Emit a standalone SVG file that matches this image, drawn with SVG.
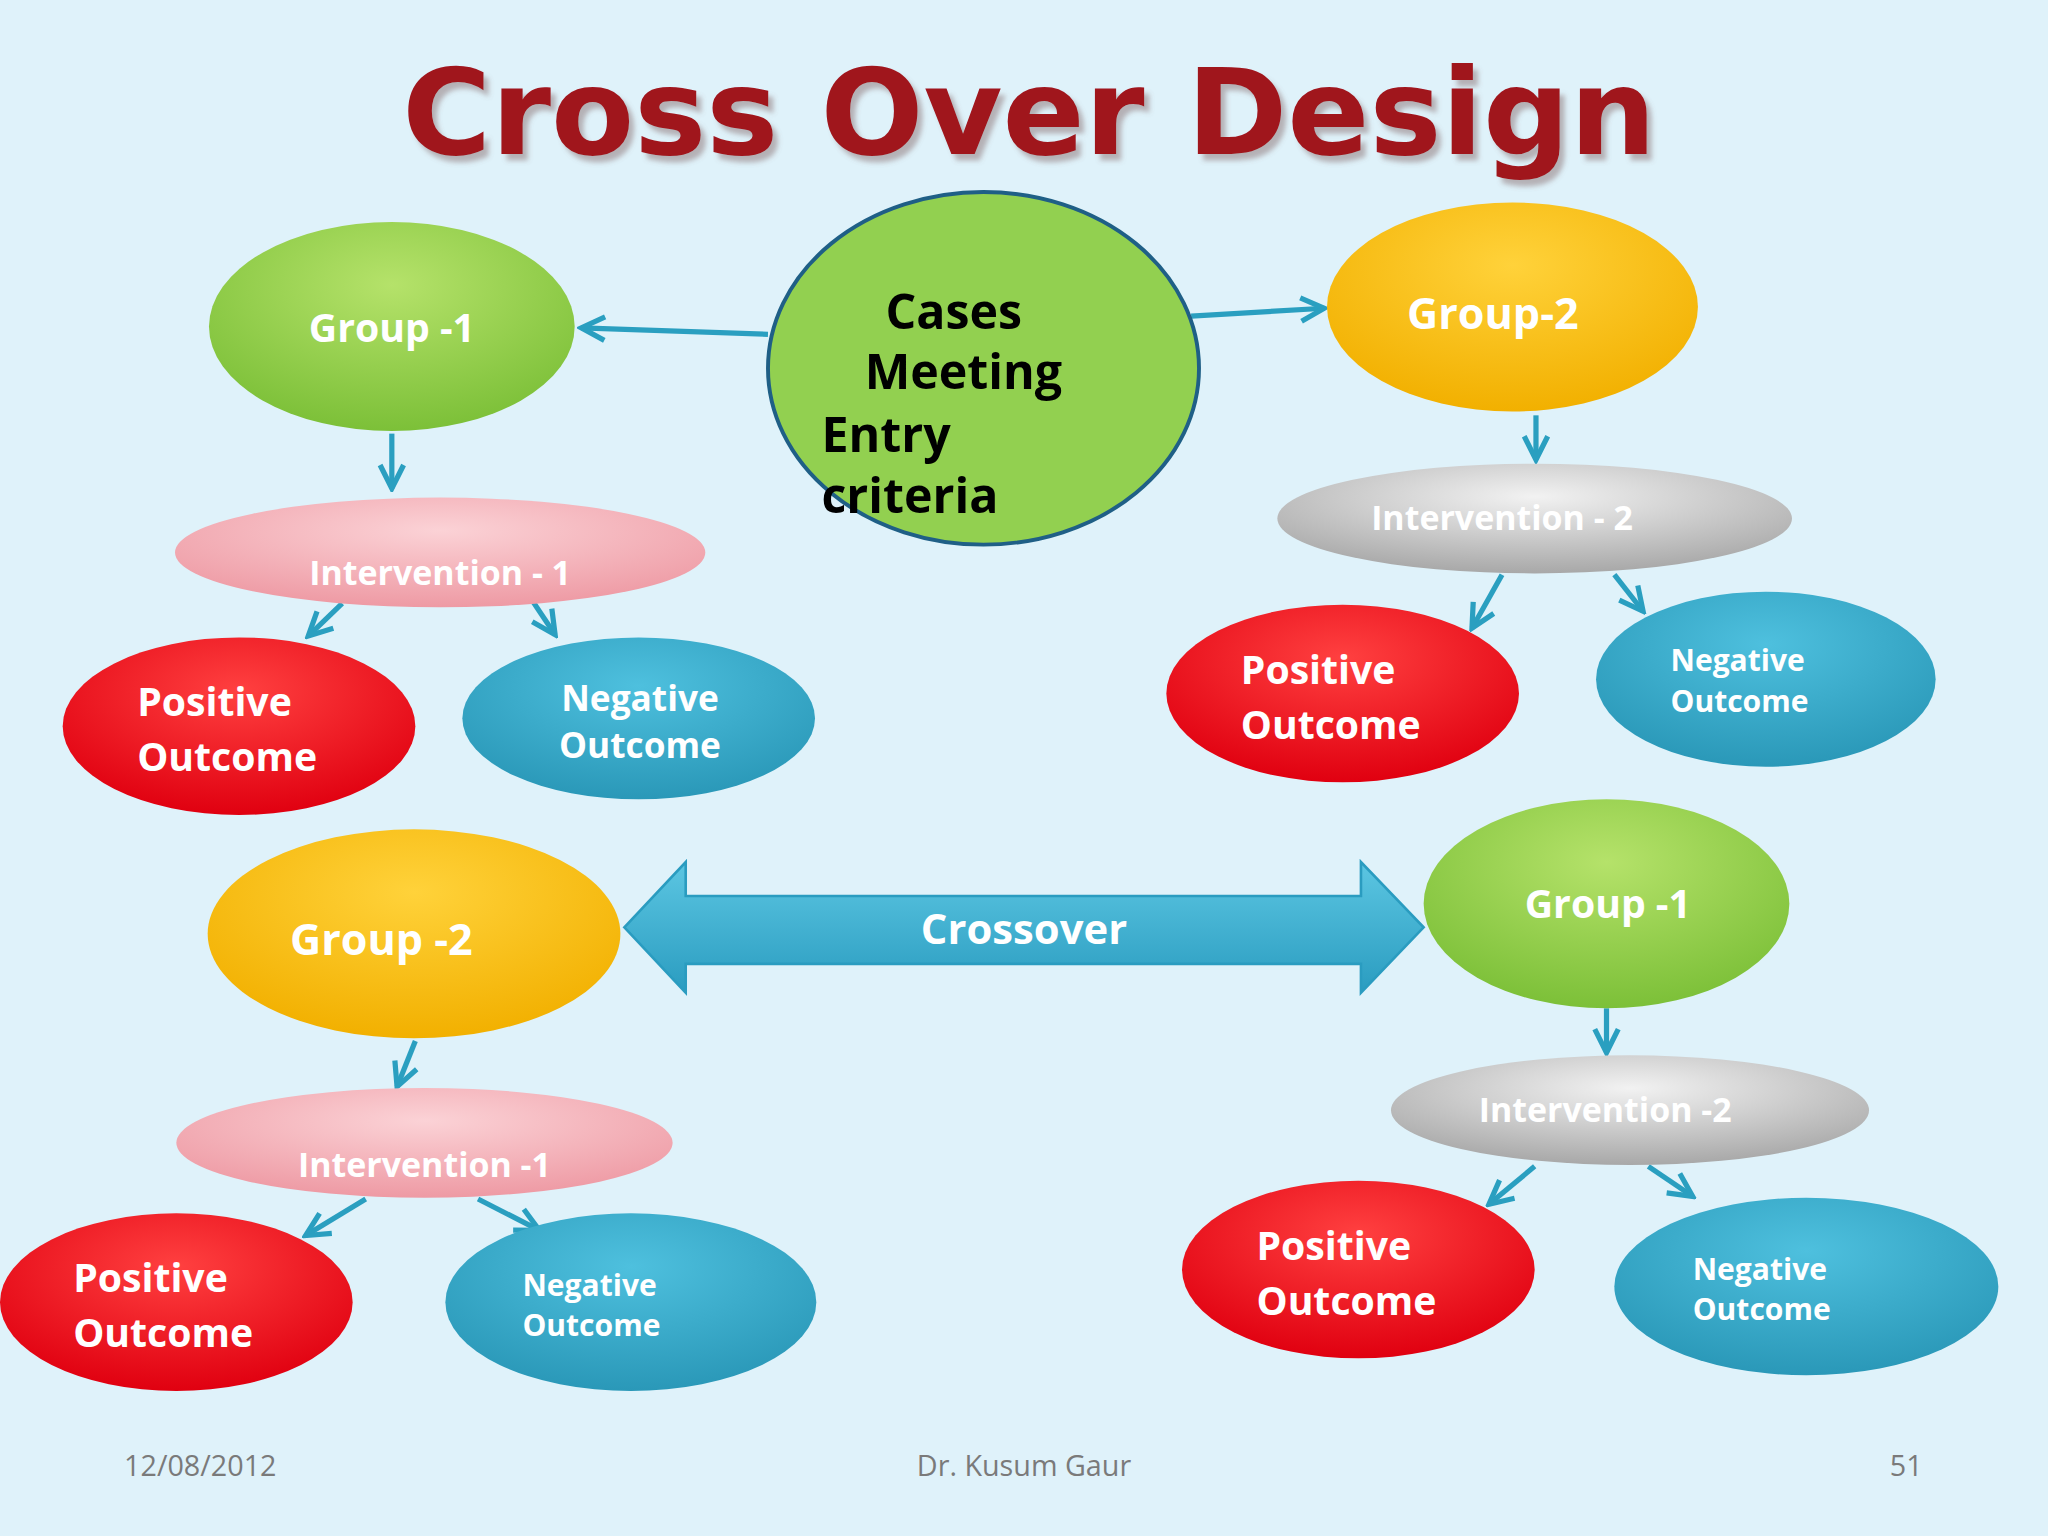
<svg xmlns="http://www.w3.org/2000/svg" width="2048" height="1536" viewBox="0 0 2048 1536">
<defs>
<radialGradient id="gG" cx="0.5" cy="0.3" r="0.7"><stop offset="0" stop-color="#b5e26a"/><stop offset="1" stop-color="#7cc038"/></radialGradient>
<radialGradient id="gY" cx="0.5" cy="0.3" r="0.7"><stop offset="0" stop-color="#ffd23a"/><stop offset="1" stop-color="#f2b000"/></radialGradient>
<radialGradient id="gP" cx="0.5" cy="0.3" r="0.7"><stop offset="0" stop-color="#fbd2d6"/><stop offset="1" stop-color="#ee9aa4"/></radialGradient>
<radialGradient id="gS" cx="0.5" cy="0.3" r="0.7"><stop offset="0" stop-color="#f2f2f2"/><stop offset="1" stop-color="#a8a8a8"/></radialGradient>
<radialGradient id="gR" cx="0.5" cy="0.3" r="0.7"><stop offset="0" stop-color="#ff4040"/><stop offset="1" stop-color="#e00010"/></radialGradient>
<radialGradient id="gB" cx="0.5" cy="0.3" r="0.7"><stop offset="0" stop-color="#4ec0de"/><stop offset="1" stop-color="#2a98b8"/></radialGradient>
<linearGradient id="gA" x1="0" y1="0" x2="0" y2="1"><stop offset="0" stop-color="#5cc6e2"/><stop offset="1" stop-color="#2a9cc0"/></linearGradient>
<filter id="sh" x="-5%" y="-10%" width="110%" height="130%"><feDropShadow dx="4" dy="5" stdDeviation="2" flood-color="#806060" flood-opacity="0.45"/></filter>
<marker id="ah" viewBox="0 0 24 24" refX="21" refY="12" markerWidth="24" markerHeight="24" markerUnits="userSpaceOnUse" orient="auto">
<path d="M3,3 L21,12 L3,21" fill="none" stroke="#2a9fc0" stroke-width="4"/></marker>
</defs>
<style>
.w{font-family:"Open Sans","DejaVu Sans",sans-serif;font-weight:bold;fill:#fff;text-anchor:middle}
.ws{font-family:"Open Sans","DejaVu Sans",sans-serif;font-weight:bold;fill:#fff;text-anchor:start}
.k{font-family:"Open Sans","DejaVu Sans",sans-serif;font-weight:bold;fill:#000}
.c{stroke:#2a9fc0;stroke-width:4;fill:none;marker-end:url(#ah)}
.f{font-family:"Open Sans","DejaVu Sans",sans-serif;fill:#7a7a7a;font-size:22px}
</style>
<rect width="2048" height="1536" fill="#dff2fa"/>
<g transform="scale(1.3061)">
<text x="788" y="118" text-anchor="middle" font-family="DejaVu Sans, sans-serif" font-weight="bold" font-size="92" fill="#a0141e" textLength="960" lengthAdjust="spacingAndGlyphs" filter="url(#sh)">Cross Over Design</text>

<g id="connectors">
<path class="c" d="M588,256 L445,251"/>
<path class="c" d="M912,242 L1014,236"/>
<path class="c" d="M300,332 L300,374"/>
<path class="c" d="M1176,318 L1176,352"/>
<path class="c" d="M262,462 L236,487"/>
<path class="c" d="M405,456 L425,486"/>
<path class="c" d="M1150,440 L1127,481"/>
<path class="c" d="M1236,440 L1258,468"/>
<path class="c" d="M318,797 L304,832"/>
<path class="c" d="M1230,772 L1230,806"/>
<path class="c" d="M280,918 L234,946"/>
<path class="c" d="M366,918 L413,942"/>
<path class="c" d="M1175,893 L1140,922"/>
<path class="c" d="M1262,893 L1296,916"/>
<g id="crossover">
<path d="M478,710 L525,660 L525,686 L1042,686 L1042,660 L1090,710 L1042,760 L1042,738 L525,738 L525,760 Z" fill="url(#gA)" stroke="#2a9cc0" stroke-width="2"/>
<text x="784" y="723" class="w" font-size="32">Crossover</text>
</g>
</g>

<g id="cases"><ellipse cx="753" cy="282" rx="165" ry="135" fill="#92d050" stroke="#1f5f86" stroke-width="3"/>
<text class="k" font-size="37"><tspan x="678" y="252">Cases</tspan><tspan x="662" y="298">Meeting</tspan><tspan x="629" y="346">Entry</tspan><tspan x="629" y="393">criteria</tspan></text></g>

<g id="g1"><ellipse cx="300" cy="250" rx="140" ry="80" fill="url(#gG)"/><text x="300" y="262" class="w" font-size="30">Group -1</text></g>
<g id="g2"><ellipse cx="1158" cy="235" rx="142" ry="80" fill="url(#gY)"/><text x="1143" y="252" class="w" font-size="33">Group-2</text></g>
<g id="i1"><ellipse cx="337" cy="423" rx="203" ry="42" fill="url(#gP)"/><text x="337" y="448" class="w" font-size="26">Intervention - 1</text></g>
<g id="p1"><ellipse cx="183" cy="556" rx="135" ry="68" fill="url(#gR)"/><text class="ws" font-size="30"><tspan x="105" y="548">Positive</tspan><tspan x="105" y="590">Outcome</tspan></text></g>
<g id="n1"><ellipse cx="489" cy="550" rx="135" ry="62" fill="url(#gB)"/><text class="w" font-size="27"><tspan x="490" y="544">Negative</tspan><tspan x="490" y="580">Outcome</tspan></text></g>
<g id="i2"><ellipse cx="1175" cy="397" rx="197" ry="42" fill="url(#gS)"/><text x="1150" y="406" class="w" font-size="26">Intervention - 2</text></g>
<g id="p2"><ellipse cx="1028" cy="531" rx="135" ry="68" fill="url(#gR)"/><text class="ws" font-size="30"><tspan x="950" y="524">Positive</tspan><tspan x="950" y="566">Outcome</tspan></text></g>
<g id="n2"><ellipse cx="1352" cy="520" rx="130" ry="67" fill="url(#gB)"/><text class="ws" font-size="23"><tspan x="1279" y="514">Negative</tspan><tspan x="1279" y="545">Outcome</tspan></text></g>
<g id="g3"><ellipse cx="317" cy="715" rx="158" ry="80" fill="url(#gY)"/><text x="292" y="731" class="w" font-size="33">Group -2</text></g>
<g id="g4"><ellipse cx="1230" cy="692" rx="140" ry="80" fill="url(#gG)"/><text x="1231" y="703" class="w" font-size="30">Group -1</text></g>
<g id="i3"><ellipse cx="325" cy="875" rx="190" ry="42" fill="url(#gP)"/><text x="325" y="901" class="w" font-size="26">Intervention -1</text></g>
<g id="p3"><ellipse cx="135" cy="997" rx="135" ry="68" fill="url(#gR)"/><text class="ws" font-size="30"><tspan x="56" y="989">Positive</tspan><tspan x="56" y="1031">Outcome</tspan></text></g>
<g id="n3"><ellipse cx="483" cy="997" rx="142" ry="68" fill="url(#gB)"/><text class="ws" font-size="23"><tspan x="400" y="992">Negative</tspan><tspan x="400" y="1023">Outcome</tspan></text></g>
<g id="i4"><ellipse cx="1248" cy="850" rx="183" ry="42" fill="url(#gS)"/><text x="1229" y="859" class="w" font-size="26">Intervention -2</text></g>
<g id="p4"><ellipse cx="1040" cy="972" rx="135" ry="68" fill="url(#gR)"/><text class="ws" font-size="30"><tspan x="962" y="965">Positive</tspan><tspan x="962" y="1007">Outcome</tspan></text></g>
<g id="n4"><ellipse cx="1383" cy="985" rx="147" ry="68" fill="url(#gB)"/><text class="ws" font-size="23"><tspan x="1296" y="980">Negative</tspan><tspan x="1296" y="1011">Outcome</tspan></text></g>

<text x="95" y="1130" class="f">12/08/2012</text>
<text x="784" y="1130" class="f" text-anchor="middle">Dr. Kusum Gaur</text>
<text x="1472" y="1130" class="f" text-anchor="end">51</text>
</g>
</svg>
